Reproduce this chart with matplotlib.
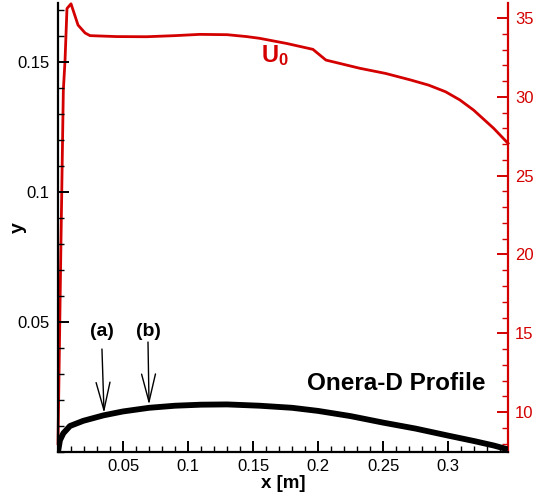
import matplotlib
matplotlib.use("Agg")
import matplotlib.pyplot as plt
from matplotlib.ticker import FixedLocator, MultipleLocator, FixedFormatter

plt.rcParams["font.family"] = ["Liberation Sans", "DejaVu Sans"]
plt.rcParams["mathtext.fontset"] = "custom"
plt.rcParams["mathtext.bf"] = "Liberation Sans:bold"
plt.rcParams["mathtext.rm"] = "Liberation Sans"

RED = "#d40000"

# Onera-D upper surface (x [m], y)
profile_x = [0.0, 0.0015, 0.0041, 0.0092, 0.0195, 0.035, 0.05, 0.07, 0.09,
             0.11, 0.13, 0.155, 0.18, 0.2, 0.225, 0.25, 0.275, 0.3, 0.32,
             0.335, 0.346]
profile_y = [0.0, 0.0045, 0.0072, 0.0100, 0.0120, 0.0141, 0.0156, 0.0170,
             0.0178, 0.0182, 0.0183, 0.0178, 0.0170, 0.0158, 0.0138, 0.0113,
             0.0090, 0.0063, 0.0042, 0.0025, 0.0010]

# external velocity U0 along the profile
u0_x = [0.0, 0.0023, 0.0041, 0.0054, 0.0069, 0.010, 0.0154, 0.0208, 0.0246,
        0.045, 0.068, 0.09, 0.109, 0.130, 0.145, 0.155, 0.176, 0.196, 0.206,
        0.232, 0.252, 0.271, 0.285, 0.298, 0.309, 0.3195, 0.335, 0.346]
u0_val = [8.0, 20.9, 30.4, 32.3, 35.6, 35.9, 34.55, 34.05, 33.88,
          33.82, 33.81, 33.88, 33.96, 33.94, 33.82, 33.71, 33.38, 33.01, 32.33,
          31.81, 31.48, 31.07, 30.74, 30.32, 29.80, 29.16, 28.0, 27.05]

x_ticks = [0.05, 0.1, 0.15, 0.2, 0.25, 0.3]
x_labels = ["0.05", "0.1", "0.15", "0.2", "0.25", "0.3"]
y_ticks = [0.05, 0.1, 0.15]
y_labels = ["0.05", "0.1", "0.15"]
u_ticks = [10, 15, 20, 25, 30, 35]

# measurement stations: label, arrow tail, arrow tip
stations = [
    ("(a)", (0.0338, 0.0396), (0.0354, 0.0150)),
    ("(b)", (0.0692, 0.0423), (0.0700, 0.0182)),
]

fig = plt.figure(figsize=(5.33, 4.97), dpi=100)
ax = fig.add_axes([58 / 533, 45 / 497, 450 / 533, 449 / 497])
ax2 = ax.twinx()

ax2.plot(u0_x, u0_val, color=RED, lw=2.0, clip_on=False)
ax2.set_ylim(7.47, 35.95)

ax.plot(profile_x, profile_y, color="black", lw=4.2, solid_capstyle="butt")
ax.set_xlim(0, 0.346)
ax.set_ylim(0, 0.1727)

# put the profile axes above the red curve
ax.set_zorder(ax2.get_zorder() + 1)
ax.patch.set_visible(False)

ax.xaxis.set_major_locator(FixedLocator(x_ticks))
ax.xaxis.set_major_formatter(FixedFormatter(x_labels))
ax.xaxis.set_minor_locator(MultipleLocator(0.01))
ax.yaxis.set_major_locator(FixedLocator(y_ticks))
ax.yaxis.set_major_formatter(FixedFormatter(y_labels))
ax.yaxis.set_minor_locator(MultipleLocator(0.01))
ax2.yaxis.set_major_locator(FixedLocator(u_ticks))
ax2.yaxis.set_minor_locator(MultipleLocator(1))

for s in ["top", "right"]:
    ax.spines[s].set_visible(False)
for s in ["top", "left", "bottom"]:
    ax2.spines[s].set_visible(False)
ax.spines["left"].set_linewidth(1.6)
ax.spines["bottom"].set_linewidth(1.6)
ax2.spines["right"].set_linewidth(1.6)
ax2.spines["right"].set_color(RED)

ax.tick_params(which="major", direction="in", length=8, width=1.4,
               labelsize=12, pad=6, top=False, right=False)
ax.tick_params(which="minor", direction="in", length=4.5, width=1.0,
               top=False, right=False)
ax.tick_params(axis="x", which="major", pad=5)
ax2.tick_params(which="major", direction="in", length=8, width=1.4,
                labelsize=12, pad=5, colors=RED)
ax2.tick_params(which="minor", direction="in", length=4.5, width=1.0,
                colors=RED)

ax.set_xlabel("x [m]", fontsize=13.5, fontweight="bold", labelpad=1)
ax.set_ylabel("y", fontsize=14, fontweight="bold")
ax.yaxis.set_label_coords(-0.069, 0.5)

ax.text(0.156, 0.1499, r"$\mathbf{U_0}$", color=RED, fontsize=17,
        ha="left", va="baseline")
ax.text(0.1915, 0.024, "Onera-D Profile", fontsize=17.5, fontweight="bold",
        ha="left", va="baseline")

for label, tail, tip in stations:
    ax.annotate("", xy=tip, xytext=tail,
                arrowprops=dict(arrowstyle="->,head_length=1.0,head_width=0.25",
                                lw=1.0, color="black", mutation_scale=20,
                                shrinkA=0, shrinkB=0))
    ax.text(tail[0], 0.0448, label, fontsize=14, fontweight="bold",
            ha="center", va="baseline")

fig.savefig("out.png", dpi=100)
